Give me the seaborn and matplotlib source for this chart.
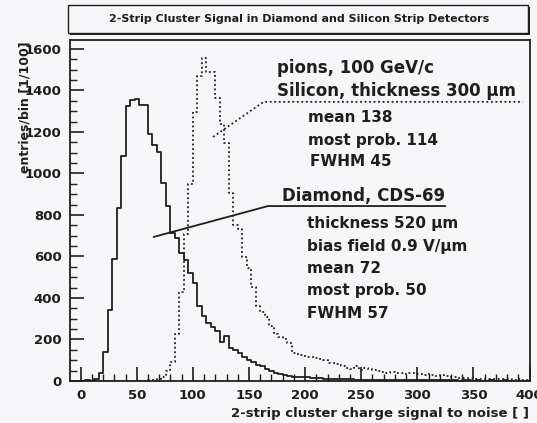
import numpy as np
import pandas as pd
import matplotlib
matplotlib.use("Agg")
import matplotlib.pyplot as plt
from matplotlib.ticker import MultipleLocator
from matplotlib.patches import Rectangle
import seaborn as sns

# ---------------- data (bin width 4, left edges 0..396) ----------------
bin_width = 4
bin_left = list(range(0, 400, 4))

diamond_counts = [
    2, 3, 2, 8, 40, 140, 340, 590, 835, 1085,          # 0-36
    1325, 1355, 1360, 1330, 1328, 1190, 1138, 1105, 952, 843,  # 40-76
    714, 690, 619, 581, 519, 471, 362, 314, 281, 262,  # 80-116
    243, 186, 217, 160, 150, 135, 118, 102, 90, 78,    # 120-156
    70, 58, 50, 40, 35, 30, 22, 21, 20, 18,            # 160-196
    17, 15, 16, 13, 12, 12, 10, 10, 9, 8,              # 200-236
    8, 7, 7, 6, 6, 5, 5, 5, 4, 5,                      # 240-276
    4, 4, 5, 4, 3, 4, 3, 4, 3, 3,                      # 280-316
    4, 3, 3, 3, 2, 3, 3, 2, 3, 2,                      # 320-356
    2, 3, 2, 2, 3, 2, 2, 2, 2, 2,                      # 360-396
]

silicon_counts = [
    0, 0, 0, 0, 0, 0, 0, 0, 0, 0,                      # 0-36
    1, 1, 2, 2, 2, 3, 5, 10, 20, 48,                   # 40-76
    92, 225, 430, 710, 950, 1295, 1470, 1555, 1490, 1488,  # 80-116
    1365, 1240, 1145, 905, 750, 733, 597, 543, 454, 363,   # 120-156
    331, 306, 266, 225, 210, 200, 185, 135, 130, 125,  # 160-196
    118, 115, 110, 106, 102, 88, 85, 80, 72, 65,       # 200-236
    60, 72, 55, 62, 58, 52, 48, 42, 40, 44,            # 240-276
    38, 40, 35, 38, 40, 34, 30, 32, 28, 26,            # 280-316
    28, 22, 20, 18, 15, 16, 13, 14, 12, 10,            # 320-356
    12, 10, 9, 10, 8, 9, 7, 8, 6, 7,                   # 360-396
]

x_ticks = [0, 50, 100, 150, 200, 250, 300, 350, 400]
y_ticks = [0, 200, 400, 600, 800, 1000, 1200, 1400, 1600]

title_text = "2-Strip Cluster Signal in Diamond and Silicon Strip Detectors"
xlabel_text = "2-strip cluster charge signal to noise [ ]"
ylabel_text = "entries/bin [1/100]"

silicon_lines = ["pions, 100 GeV/c", "Silicon, thickness 300 \u00b5m",
                 "mean 138", "most prob. 114", "FWHM 45"]
diamond_lines = ["Diamond, CDS-69", "thickness 520 \u00b5m",
                 "bias field 0.9 V/\u00b5m", "mean 72", "most prob. 50", "FWHM 57"]

# pointer lines (data coordinates)
si_pointer_x = [118, 163, 394]
si_pointer_y = [1176, 1345, 1345]
di_pointer_x = [65, 167, 325]
di_pointer_y = [694, 843, 843]

# ---------------- figure ----------------
sns.set_theme(style="white")
plt.rcParams['font.family'] = ['DejaVu Sans']
plt.rcParams['font.weight'] = 'bold'

W, H = 537, 423
bg = '#f6f6f8'
ink = '#1e1e1e'
fig = plt.figure(figsize=(W / 100, H / 100), dpi=100, facecolor=bg)
ax = fig.add_axes([70 / W, (H - 381) / H, (529.5 - 70) / W, (381 - 40) / H])
ax.set_facecolor(bg)

centers = np.array(bin_left, dtype=float) + bin_width / 2
df = pd.DataFrame({"x": centers,
                   "diamond": np.array(diamond_counts, dtype=float),
                   "silicon": np.array(silicon_counts, dtype=float)})

sns.histplot(data=df, x="x", weights="diamond", binwidth=bin_width, binrange=(0, 400),
             element="step", fill=False, color=ink, linewidth=1.3, ax=ax)
sns.histplot(data=df, x="x", weights="silicon", binwidth=bin_width, binrange=(0, 400),
             element="step", fill=False, color=ink, linewidth=1.3,
             linestyle=(0, (1, 1.5)), ax=ax)

ax.set_xlim(-9.5, 400)
ax.set_ylim(0, 1643)
ax.set_xticks(x_ticks)
ax.set_yticks(y_ticks)
ax.set_xticklabels([str(t) for t in x_ticks], fontsize=9.5, fontweight='bold', color=ink)
ax.set_yticklabels([str(t) for t in y_ticks], fontsize=9.5, fontweight='bold', color=ink)
ax.xaxis.set_minor_locator(MultipleLocator(10))
ax.yaxis.set_minor_locator(MultipleLocator(50))
ax.tick_params(which='major', direction='in', length=10, width=1.2, color=ink,
               bottom=True, left=True, top=False, right=False, pad=6)
ax.tick_params(which='minor', direction='in', length=5, width=1.0, color=ink,
               bottom=True, left=True, top=False, right=False)
ax.set_xlabel("")
ax.set_ylabel("")
for s in ax.spines.values():
    s.set_color(ink)
    s.set_linewidth(1.3)
    s.set_visible(True)

# pointer lines
ax.plot(si_pointer_x, si_pointer_y, color=ink, linewidth=1.3, linestyle=(0, (1, 1.5)))
ax.plot(di_pointer_x, di_pointer_y, color=ink, linewidth=1.3)

# annotation texts (figure pixel placement)
def ftext(px, py, s, size, **kw):
    fig.text(px / W, (H - py) / H, s, fontsize=size, fontweight='bold', color=ink,
             va='center', **kw)

ftext(277, 68, silicon_lines[0], 12)
ftext(277, 91, silicon_lines[1], 12)
ftext(308, 118, silicon_lines[2], 11)
ftext(308, 140, silicon_lines[3], 11)
ftext(310, 161, silicon_lines[4], 11)

ftext(282, 196, diamond_lines[0], 12)
ftext(307, 223, diamond_lines[1], 11)
ftext(307, 246, diamond_lines[2], 11)
ftext(307, 268, diamond_lines[3], 11)
ftext(307, 290, diamond_lines[4], 11)
ftext(307, 313, diamond_lines[5], 11)

# axis labels
fig.text(529 / W, (H - 413) / H, xlabel_text, fontsize=9.5, fontweight='bold',
         color=ink, ha='right', va='center')
fig.text(25 / W, (H - 41) / H, ylabel_text, fontsize=9, fontweight='bold',
         color=ink, ha='center', va='top', rotation=90)

# title box with thin shadow
shadow = Rectangle((70 / W, (H - 35.5) / H), (530 - 70) / W, (35.5 - 7) / H,
                   transform=fig.transFigure, facecolor=ink, edgecolor='none', zorder=1)
box = Rectangle((68 / W, (H - 33.5) / H), (528 - 68) / W, (33.5 - 5) / H,
                transform=fig.transFigure, facecolor=bg, edgecolor=ink,
                linewidth=1.0, zorder=2)
fig.patches.extend([shadow, box])
fig.text(299 / W, (H - 19.5) / H, title_text, fontsize=8.0, fontweight='bold',
         color=ink, ha='center', va='center', zorder=3)

fig.savefig("out.png", dpi=100, facecolor=bg)
